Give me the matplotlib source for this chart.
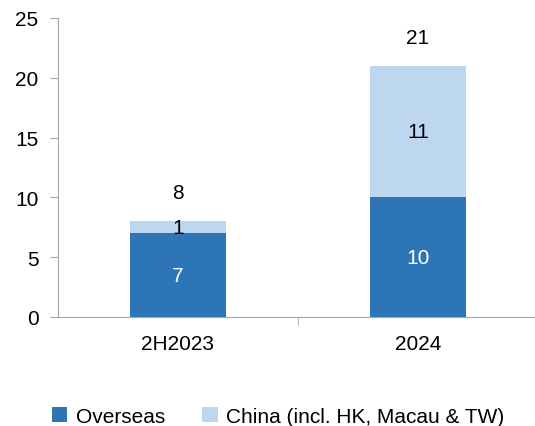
import matplotlib.pyplot as plt

categories = ["2H2023", "2024"]
overseas = [7, 10]
china = [1, 11]
totals = [8, 21]

plt.rcParams["font.family"] = ["Liberation Sans", "DejaVu Sans"]

fig = plt.figure(figsize=(5.35, 4.27), dpi=100)
ax = fig.add_axes([58 / 535, 109 / 427, 480 / 535, 299 / 427])

x = range(len(categories))
dark = "#2E75B6"
light = "#BDD7EE"
b1 = ax.bar(x, overseas, width=0.4, color=dark, label="Overseas")
b2 = ax.bar(x, china, width=0.4, bottom=overseas, color=light,
            label="China (incl. HK, Macau & TW)")

for i in x:
    ax.text(i, overseas[i] / 2, str(overseas[i]), ha="center", va="center",
            color="white", fontsize=15)
    ax.text(i, overseas[i] + china[i] / 2, str(china[i]), ha="center",
            va="center", color="black", fontsize=15)
    ax.text(i, totals[i] + 2.4, str(totals[i]), ha="center", va="center",
            color="black", fontsize=15)

ax.set_xlim(-0.5, 1.5)
ax.set_ylim(0, 25)
ax.set_yticks([0, 5, 10, 15, 20, 25])
ax.set_xticks([0, 1])
ax.set_xticklabels(categories)
ax.set_xticks([0.5], minor=True)

for s in ["top", "right"]:
    ax.spines[s].set_visible(False)
for s in ["left", "bottom"]:
    ax.spines[s].set_color("#A6A6A6")

ax.tick_params(axis="y", colors="#A6A6A6", labelcolor="black", labelsize=15,
               length=6, pad=8, direction="out")
ax.tick_params(axis="x", which="major", length=0, labelsize=15, pad=12,
               labelcolor="black")
ax.tick_params(axis="x", which="minor", length=6, color="#A6A6A6",
               direction="out")

fig.legend(handles=[b1, b2], loc="center", bbox_to_anchor=(0.52, 0.022),
           ncol=2, frameon=False, fontsize=15, handlelength=0.75,
           handleheight=0.75, handletextpad=0.4, columnspacing=1.8)

fig.savefig("out.png", dpi=100)
